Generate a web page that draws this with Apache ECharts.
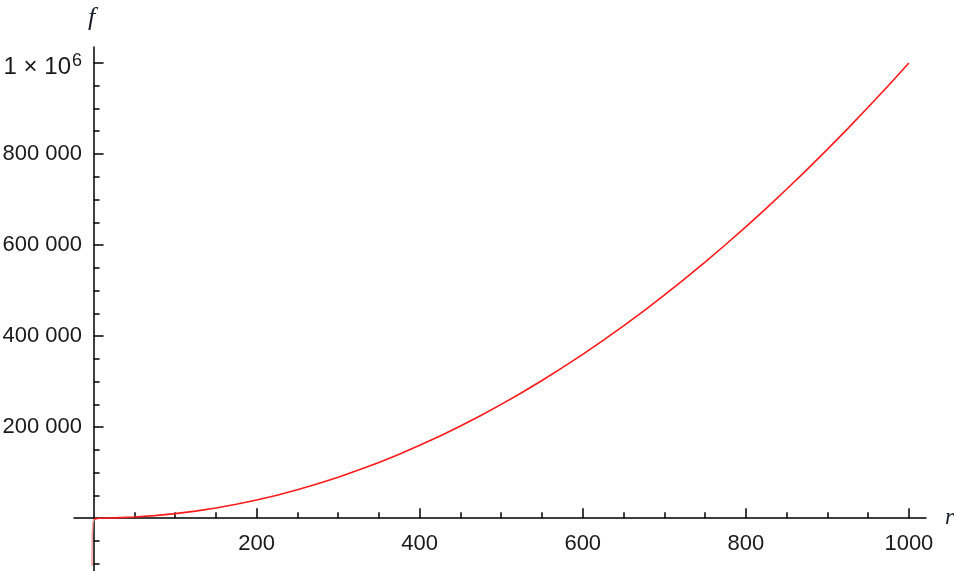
<!DOCTYPE html>
<html>
<head>
<meta charset="utf-8">
<script src="https://cdn.jsdelivr.net/npm/echarts@6/dist/echarts.min.js"></script>
<style>
  html, body { margin: 0; padding: 0; background: #fff; }
  #chart { width: 957px; height: 571px; }
</style>
</head>
<body>
<div id="chart"></div>
<script>
// values
const rValues = [0.5, 6, 25, 50, 75, 100, 125, 150, 175, 200, 225, 250, 275, 300, 325, 350, 375, 400,
  425, 450, 475, 500, 525, 550, 575, 600, 625, 650, 675, 700, 725, 750, 775, 800, 825, 850, 875, 900, 925, 950, 975, 1000];
const fValues = [-2000, 0, 625, 2500, 5600, 10000, 15600, 22500, 30600, 40000, 50600, 62500, 75600,
  90000, 105600, 122500, 140600, 160000, 180600, 202500, 225600, 250000, 275600, 302500, 330600, 360000, 390600,
  422500, 455600, 490000, 525600, 562500, 600600, 640000, 680600, 722500, 765600, 810000, 855600, 902500, 950600, 1000000];
// the steep drop just left of r = 0
const dipR = [-2, -1.6, -0.8, 0.5];
const dipF = [-105000, -40000, -10000, -2000];

const xMajorTicks = [200, 400, 600, 800, 1000];
const xMinorTicks = [50, 100, 150, 250, 300, 350, 450, 500, 550, 650, 700, 750, 850, 900, 950];
const yMajorTicks = [200000, 400000, 600000, 800000, 1000000];
const yMinorTicks = [-100000, -50000, 50000, 100000, 150000, 250000, 300000, 350000, 450000, 500000, 550000,
  650000, 700000, 750000, 850000, 900000, 950000];

const xMin = -24, xMax = 1021;
const yMin = -116000, yMax = 1035000;

const labelFont = { fontFamily: 'Liberation Sans', fontSize: 22, color: '#1a1a1a' };
const axisLine = { onZero: true, onZeroAxisIndex: 0, lineStyle: { color: '#000', width: 1.5 } };

const chart = echarts.init(document.getElementById('chart'));
chart.setOption({
  animation: false,
  grid: { left: 74, right: 31, top: 47, bottom: 0, containLabel: false, outerBoundsMode: 'none' },
  xAxis: [
    {
      type: 'value', min: xMin, max: xMax, position: 'bottom',
      name: 'r', nameLocation: 'end', nameGap: 19,
      nameTextStyle: { fontFamily: 'Liberation Serif', fontStyle: 'italic', fontSize: 23, color: '#1a1a2a', verticalAlign: 'middle', padding: [4, 0, 0, 0] },
      axisLine: axisLine,
      splitLine: { show: false },
      axisTick: { inside: true, length: 10, customValues: xMajorTicks, lineStyle: { color: '#000', width: 1.5 } },
      axisLabel: Object.assign({ margin: -38, customValues: xMajorTicks, formatter: v => String(v) }, labelFont)
    },
    {
      type: 'value', min: xMin, max: xMax, position: 'bottom',
      axisLine: { show: false, onZero: true, onZeroAxisIndex: 0 },
      splitLine: { show: false },
      axisTick: { inside: true, length: 6, customValues: xMinorTicks, lineStyle: { color: '#000', width: 1.5 } },
      axisLabel: { show: false }
    }
  ],
  yAxis: [
    {
      type: 'value', min: yMin, max: yMax, position: 'left',
      name: 'f', nameLocation: 'end', nameGap: 29,
      nameTextStyle: { fontFamily: 'Liberation Serif', fontStyle: 'italic', fontSize: 26, color: '#1a1a2a', align: 'center', verticalAlign: 'middle', padding: [0, 4, 0, 0] },
      axisLine: axisLine,
      splitLine: { show: false },
      axisTick: { inside: true, length: 10, customValues: yMajorTicks, lineStyle: { color: '#000', width: 1.5 } },
      axisLabel: Object.assign({
        margin: -8,
        customValues: yMajorTicks,
        formatter: function (v) {
          if (v === 1000000) return '{a|1 × 10}{s|6}';
          return String(v / 1000) + ' 000';
        },
        rich: {
          a: { fontFamily: 'Liberation Sans', fontSize: 24, lineHeight: 38, color: '#1a1a1a', padding: [8, 0, 0, 0] },
          s: { fontFamily: 'Liberation Sans', fontSize: 18, lineHeight: 18, color: '#1a1a1a', verticalAlign: 'top', padding: [8, 0, 20, 1] }
        }
      }, labelFont)
    },
    {
      type: 'value', min: yMin, max: yMax, position: 'left',
      axisLine: { show: false, onZero: true, onZeroAxisIndex: 0 },
      splitLine: { show: false },
      axisTick: { inside: true, length: 6, customValues: yMinorTicks, lineStyle: { color: '#000', width: 1.5 } },
      axisLabel: { show: false }
    }
  ],
  series: [
    {
      type: 'line',
      xAxisIndex: 0,
      yAxisIndex: 0,
      data: rValues.map((r, i) => [r, fValues[i]]),
      showSymbol: false,
      lineStyle: { color: '#ff1a1a', width: 1.6 },
      z: 1
    },
    {
      type: 'line',
      xAxisIndex: 0,
      yAxisIndex: 0,
      data: dipR.map((r, i) => [r, dipF[i]]),
      showSymbol: false,
      lineStyle: { color: '#ff9a9a', width: 1.4 },
      z: 1
    }
  ]
});
</script>
</body>
</html>
